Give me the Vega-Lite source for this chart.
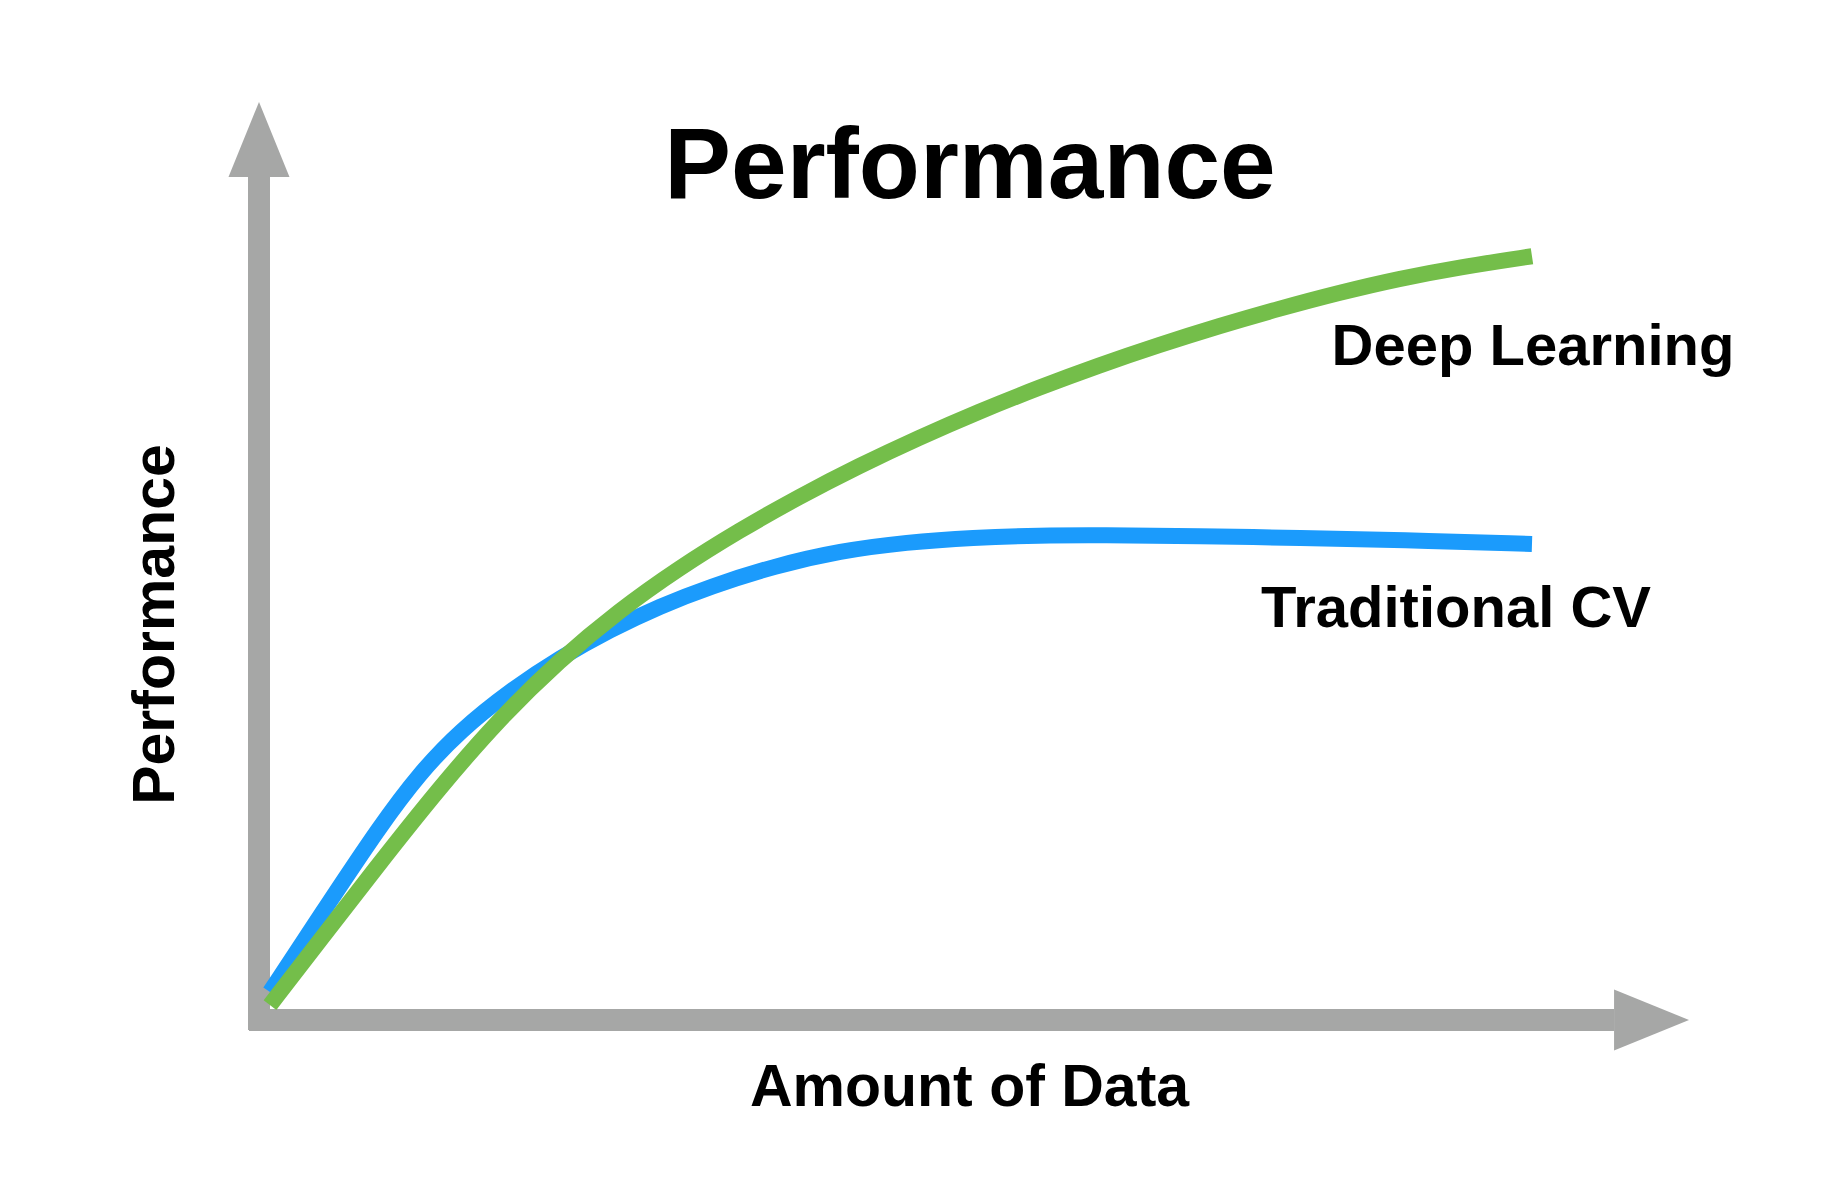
{
  "$schema": "https://vega.github.io/schema/vega-lite/v6.json",
  "width": 1430,
  "height": 918,
  "autosize": {"type": "none"},
  "padding": {"left": 259, "top": 102, "right": 155, "bottom": 164},
  "background": "white",
  "config": {
    "view": {"stroke": null},
    "axis": {"domain": false, "ticks": false, "labels": false, "grid": false}
  },
  "title": {
    "text": "Performance",
    "font": "Liberation Sans",
    "fontSize": 100,
    "fontWeight": "bold",
    "color": "black",
    "anchor": "middle",
    "frame": "group",
    "orient": "top",
    "offset": 0,
    "baseline": "alphabetic",
    "dy": 196,
    "dx": -4
  },
  "data": {
    "values": [
      {"series": "Traditional CV", "x": 0.77, "y": 3.05},
      {"series": "Traditional CV", "x": 4.76, "y": 12.48},
      {"series": "Traditional CV", "x": 8.46, "y": 21.14},
      {"series": "Traditional CV", "x": 11.26, "y": 26.94},
      {"series": "Traditional CV", "x": 14.06, "y": 31.51},
      {"series": "Traditional CV", "x": 17.55, "y": 35.87},
      {"series": "Traditional CV", "x": 21.05, "y": 39.47},
      {"series": "Traditional CV", "x": 24.55, "y": 42.52},
      {"series": "Traditional CV", "x": 28.04, "y": 45.08},
      {"series": "Traditional CV", "x": 31.54, "y": 47.20},
      {"series": "Traditional CV", "x": 36.08, "y": 49.47},
      {"series": "Traditional CV", "x": 40.63, "y": 51.10},
      {"series": "Traditional CV", "x": 45.31, "y": 52.05},
      {"series": "Traditional CV", "x": 49.93, "y": 52.55},
      {"series": "Traditional CV", "x": 54.62, "y": 52.80},
      {"series": "Traditional CV", "x": 58.81, "y": 52.83},
      {"series": "Traditional CV", "x": 65.80, "y": 52.72},
      {"series": "Traditional CV", "x": 72.80, "y": 52.51},
      {"series": "Traditional CV", "x": 79.79, "y": 52.29},
      {"series": "Traditional CV", "x": 89.02, "y": 51.85},
      {"series": "Deep Learning", "x": 0.77, "y": 1.63},
      {"series": "Deep Learning", "x": 4.20, "y": 8.57},
      {"series": "Deep Learning", "x": 8.39, "y": 17.00},
      {"series": "Deep Learning", "x": 12.59, "y": 25.24},
      {"series": "Deep Learning", "x": 16.78, "y": 32.76},
      {"series": "Deep Learning", "x": 20.98, "y": 39.16},
      {"series": "Deep Learning", "x": 25.17, "y": 44.59},
      {"series": "Deep Learning", "x": 29.37, "y": 49.23},
      {"series": "Deep Learning", "x": 33.57, "y": 53.31},
      {"series": "Deep Learning", "x": 37.76, "y": 57.00},
      {"series": "Deep Learning", "x": 41.96, "y": 60.37},
      {"series": "Deep Learning", "x": 46.15, "y": 63.44},
      {"series": "Deep Learning", "x": 50.35, "y": 66.29},
      {"series": "Deep Learning", "x": 54.55, "y": 68.90},
      {"series": "Deep Learning", "x": 58.74, "y": 71.32},
      {"series": "Deep Learning", "x": 62.94, "y": 73.54},
      {"series": "Deep Learning", "x": 67.13, "y": 75.60},
      {"series": "Deep Learning", "x": 71.33, "y": 77.49},
      {"series": "Deep Learning", "x": 75.52, "y": 79.23},
      {"series": "Deep Learning", "x": 79.72, "y": 80.76},
      {"series": "Deep Learning", "x": 83.92, "y": 82.00},
      {"series": "Deep Learning", "x": 89.02, "y": 83.20}
    ]
  },
  "layer": [
    {
      "data": {"values": [{}]},
      "mark": {"type": "rule", "strokeWidth": 22, "color": "#a6a7a6", "strokeCap": "butt"},
      "encoding": {
        "x": {"datum": 0, "type": "quantitative", "scale": {"domain": [0, 100], "nice": false, "zero": false},
          "axis": {"title": "Amount of Data", "titleFont": "Liberation Sans", "titleFontSize": 59, "titleFontWeight": "bold", "titleColor": "black", "titleX": 710, "titleY": 85, "titleAlign": "center", "titleBaseline": "alphabetic", "titleAnchor": null}},
        "y": {"datum": -1.09, "type": "quantitative", "scale": {"domain": [0, 100], "nice": false, "zero": false},
          "axis": {"title": "Performance", "titleFont": "Liberation Sans", "titleFontSize": 59, "titleFontWeight": "bold", "titleColor": "black", "titleX": -86, "titleY": 522, "titleAngle": -90, "titleAlign": "center", "titleBaseline": "alphabetic", "titleAnchor": null}},
        "y2": {"datum": 91.83}
      }
    },
    {
      "data": {"values": [{}]},
      "mark": {"type": "rule", "strokeWidth": 22, "color": "#a6a7a6", "strokeCap": "butt"},
      "encoding": {
        "x": {"datum": -0.7, "type": "quantitative", "scale": {"domain": [0, 100], "nice": false, "zero": false}},
        "x2": {"datum": 94.76},
        "y": {"datum": 0, "type": "quantitative", "scale": {"domain": [0, 100], "nice": false, "zero": false}}
      }
    },
    {
      "data": {"values": [{}]},
      "mark": {"type": "point", "shape": "M0,-1L0.813,1L-0.813,1Z", "size": 5625, "filled": true, "color": "#a6a7a6", "opacity": 1},
      "encoding": {
        "x": {"datum": 0, "type": "quantitative", "scale": {"domain": [0, 100], "nice": false, "zero": false}},
        "y": {"datum": 95.92, "type": "quantitative", "scale": {"domain": [0, 100], "nice": false, "zero": false}}
      }
    },
    {
      "data": {"values": [{}]},
      "mark": {"type": "point", "shape": "M-1,-0.813L1,0L-1,0.813Z", "size": 5625, "filled": true, "color": "#a6a7a6", "opacity": 1},
      "encoding": {
        "x": {"datum": 97.38, "type": "quantitative", "scale": {"domain": [0, 100], "nice": false, "zero": false}},
        "y": {"datum": 0, "type": "quantitative", "scale": {"domain": [0, 100], "nice": false, "zero": false}}
      }
    },
    {
      "transform": [{"filter": "datum.series === 'Traditional CV'"}],
      "mark": {"type": "line", "strokeWidth": 16, "color": "#1b9bfc", "interpolate": "basis", "strokeCap": "butt"},
      "encoding": {
        "x": {"field": "x", "type": "quantitative", "scale": {"domain": [0, 100], "nice": false, "zero": false}},
        "y": {"field": "y", "type": "quantitative", "scale": {"domain": [0, 100], "nice": false, "zero": false}}
      }
    },
    {
      "transform": [{"filter": "datum.series === 'Deep Learning'"}],
      "mark": {"type": "line", "strokeWidth": 16, "color": "#74be4a", "interpolate": "basis", "strokeCap": "butt"},
      "encoding": {
        "x": {"field": "x", "type": "quantitative", "scale": {"domain": [0, 100], "nice": false, "zero": false}},
        "y": {"field": "y", "type": "quantitative", "scale": {"domain": [0, 100], "nice": false, "zero": false}}
      }
    },
    {
      "transform": [
        {"joinaggregate": [{"op": "max", "field": "x", "as": "xmax"}], "groupby": ["series"]},
        {"filter": "datum.x === datum.xmax && datum.series === 'Deep Learning'"}
      ],
      "mark": {"type": "text", "font": "Liberation Sans", "fontWeight": "bold", "fontSize": 58, "color": "black", "align": "center", "baseline": "alphabetic", "dx": 1, "dy": 109},
      "encoding": {
        "x": {"field": "x", "type": "quantitative", "scale": {"domain": [0, 100], "nice": false, "zero": false}},
        "y": {"field": "y", "type": "quantitative", "scale": {"domain": [0, 100], "nice": false, "zero": false}},
        "text": {"field": "series"}
      }
    },
    {
      "transform": [
        {"joinaggregate": [{"op": "max", "field": "x", "as": "xmax"}], "groupby": ["series"]},
        {"filter": "datum.x === datum.xmax && datum.series === 'Traditional CV'"}
      ],
      "mark": {"type": "text", "font": "Liberation Sans", "fontWeight": "bold", "fontSize": 58, "color": "black", "align": "center", "baseline": "alphabetic", "dx": -76, "dy": 83},
      "encoding": {
        "x": {"field": "x", "type": "quantitative", "scale": {"domain": [0, 100], "nice": false, "zero": false}},
        "y": {"field": "y", "type": "quantitative", "scale": {"domain": [0, 100], "nice": false, "zero": false}},
        "text": {"field": "series"}
      }
    }
  ]
}
